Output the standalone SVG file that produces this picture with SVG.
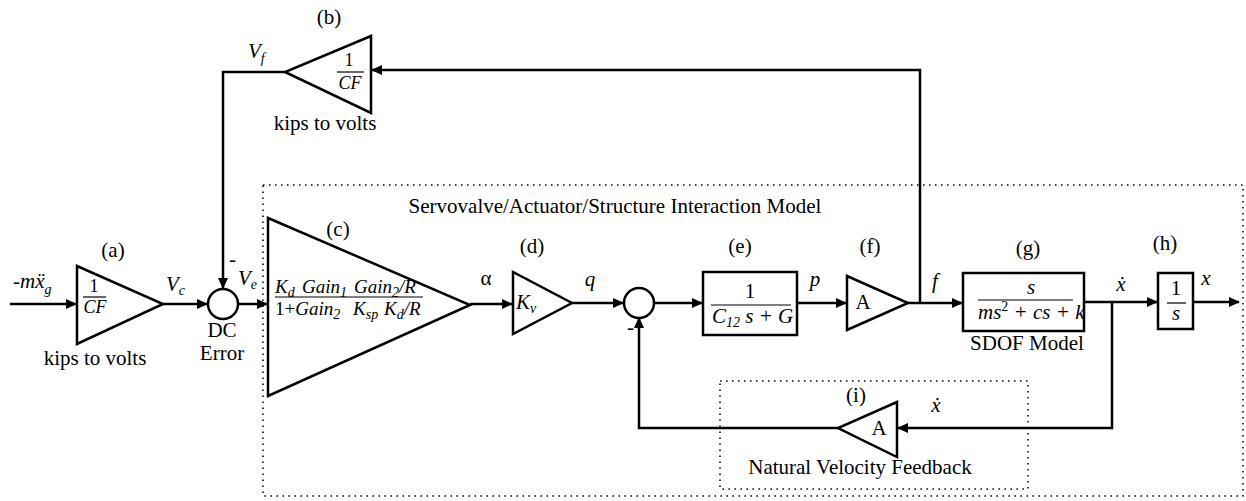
<svg xmlns="http://www.w3.org/2000/svg" width="1246" height="501" viewBox="0 0 1246 501">
<defs>
<marker id="arr" markerWidth="11" markerHeight="10" refX="10" refY="5" orient="auto" markerUnits="userSpaceOnUse">
<path d="M0,0 L11,5 L0,10 z" fill="#000"/>
</marker>
<style>
.ln{fill:none;stroke:#000;stroke-width:2.5}
.blk{fill:#fff;stroke:#000;stroke-width:2.5}
.dot{fill:none;stroke:#000;stroke-width:1.5;stroke-dasharray:1.5 4.5}
.frac{stroke:#000;stroke-width:1.2}
text{font-family:"Liberation Serif","Times New Roman",serif;fill:#000;font-size:21px}
.it{font-style:italic}
.c{text-anchor:middle}
.sub{font-size:14px}
.f17{font-size:18px}
</style>
</defs>
<rect width="1246" height="501" fill="#fff"/>

<g id="frames">
<rect class="dot" x="263" y="185" width="980" height="311"/>
<text class="c" x="615" y="213">Servovalve/Actuator/Structure Interaction Model</text>
<rect class="dot" x="720" y="381" width="308" height="108"/>
<text class="c" x="860" y="474">Natural Velocity Feedback</text>
</g>

<g id="connectors">
<path class="ln" d="M10,304 H76" marker-end="url(#arr)"/>
<path class="ln" d="M163,304 H207" marker-end="url(#arr)"/>
<path class="ln" d="M285,72 H223 V288" marker-end="url(#arr)"/>
<path class="ln" d="M238,304 H267" marker-end="url(#arr)"/>
<path class="ln" d="M470,304 H512" marker-end="url(#arr)"/>
<path class="ln" d="M572,303 H623" marker-end="url(#arr)"/>
<path class="ln" d="M654,303 H702" marker-end="url(#arr)"/>
<path class="ln" d="M797,303 H846" marker-end="url(#arr)"/>
<path class="ln" d="M908,303 H962" marker-end="url(#arr)"/>
<path class="ln" d="M920,303 V70 H372" marker-end="url(#arr)"/>
<path class="ln" d="M1084,302 H1157" marker-end="url(#arr)"/>
<path class="ln" d="M1193,302 H1239" marker-end="url(#arr)"/>
<path class="ln" d="M1112,302 V428 H898" marker-end="url(#arr)"/>
<path class="ln" d="M838,428 H639 V318" marker-end="url(#arr)"/>
</g>

<g id="input-label">
<text class="it" x="13" y="288">-mẍ<tspan class="sub" dy="6">g</tspan></text>
</g>

<g id="node-a">
<polygon class="blk" points="77,266 77,344 163,304"/>
<text class="f17 c" x="94" y="292">1</text>
<line class="frac" x1="83" y1="297" x2="106" y2="297"/>
<text class="f17 it c" x="95" y="313">CF</text>
<text class="c" x="113" y="257">(a)</text>
<text class="c" x="95" y="365">kips to volts</text>
<text class="it" x="166" y="291">V<tspan class="sub" dy="4">c</tspan></text>
</g>

<g id="node-b">
<polygon class="blk" points="371,36 371,113 285,72"/>
<text class="f17 c" x="349" y="66">1</text>
<line class="frac" x1="337" y1="72" x2="364" y2="72"/>
<text class="f17 it c" x="350" y="89">CF</text>
<text class="c" x="329" y="24">(b)</text>
<text class="c" x="325" y="130">kips to volts</text>
<text class="it" x="248" y="58">V<tspan class="sub" dy="5">f</tspan></text>
</g>

<g id="sum-dc">
<circle class="blk" cx="223" cy="304" r="15"/>
<text x="229" y="266">-</text>
<text class="c" x="222" y="337">DC</text>
<text class="c" x="222" y="360">Error</text>
<text class="it" x="238" y="285">V<tspan class="sub" dy="4">e</tspan></text>
</g>

<g id="node-c">
<polygon class="blk" points="268,218 268,396 470,305"/>
<text class="c" x="338" y="236">(c)</text>
<text class="it" style="font-size:19px" y="293"><tspan x="275">K</tspan><tspan class="sub" dy="4">d</tspan><tspan x="302" dy="-4">Gain</tspan><tspan class="sub" dy="4">1</tspan><tspan x="354" dy="-4">Gain</tspan><tspan class="sub" dy="4">2</tspan><tspan dy="-4">/R</tspan></text>
<line class="frac" x1="275" y1="297" x2="423" y2="297"/>
<text class="it" style="font-size:19px" y="315"><tspan x="275" style="font-style:normal">1+</tspan><tspan>Gain</tspan><tspan class="sub" dy="4">2</tspan><tspan x="353" dy="-4">K</tspan><tspan class="sub" dy="4">sp</tspan><tspan x="384" dy="-4">K</tspan><tspan class="sub" dy="4">d</tspan><tspan dy="-4">/R</tspan></text>
<text class="c" x="486" y="285">α</text>
</g>

<g id="node-d">
<polygon class="blk" points="513,272 513,334 572,303"/>
<text class="it" x="516" y="309">K<tspan class="sub" dy="4">v</tspan></text>
<text class="c" x="532" y="253">(d)</text>
<text class="it c" x="590" y="286">q</text>
</g>

<g id="sum-q">
<circle class="blk" cx="639" cy="303" r="15"/>
<text x="627" y="334">-</text>
</g>

<g id="node-e">
<rect class="blk" x="703" y="272" width="94" height="63"/>
<text class="c" x="750" y="298">1</text>
<line class="frac" x1="711" y1="305" x2="791" y2="305"/>
<text class="it" x="712" y="323">C<tspan class="sub" dy="4">12</tspan><tspan dy="-4"> s + G</tspan></text>
<text class="c" x="740" y="253">(e)</text>
<text class="it c" x="815" y="286">p</text>
</g>

<g id="node-f">
<polygon class="blk" points="847,276 847,330 908,303"/>
<text class="c" x="863" y="309">A</text>
<text class="c" x="870" y="253">(f)</text>
<text class="it c" x="935" y="288">f</text>
</g>

<g id="node-g">
<rect class="blk" x="963" y="273" width="121" height="58"/>
<text class="it c" x="1031" y="294">s</text>
<line class="frac" x1="978" y1="300" x2="1073" y2="300"/>
<text class="it" x="978" y="319">ms<tspan class="sub" dy="-8" style="font-style:normal">2</tspan><tspan dy="8"> + cs + k</tspan></text>
<text class="c" x="1028" y="255">(g)</text>
<text class="c" x="1027" y="350">SDOF Model</text>
<text class="it c" x="1121" y="291">ẋ</text>
</g>

<g id="node-h">
<rect class="blk" x="1158" y="273" width="35" height="56"/>
<text class="c" x="1176" y="295">1</text>
<line class="frac" x1="1167" y1="303" x2="1186" y2="303"/>
<text class="it c" x="1176" y="320">s</text>
<text class="c" x="1165" y="250">(h)</text>
<text class="it c" x="1206" y="285">x</text>
</g>

<g id="node-i">
<polygon class="blk" points="897,402 897,457 838,428"/>
<text class="c" x="879" y="435">A</text>
<text class="c" x="856" y="402">(i)</text>
<text class="it c" x="936" y="412">ẋ</text>
</g>
</svg>
